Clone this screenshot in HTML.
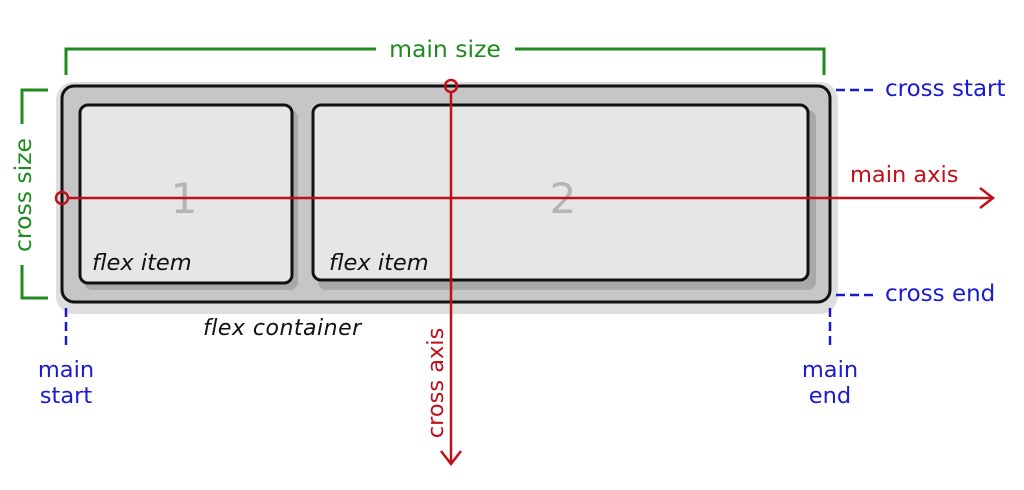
<!DOCTYPE html>
<html><head><meta charset="utf-8"><style>
html,body{margin:0;padding:0;background:#fff;width:1024px;height:490px;overflow:hidden}
svg{display:block}
text{font-family:"DejaVu Sans","Liberation Sans",sans-serif}
</style></head><body>
<svg width="1024" height="490" viewBox="0 0 1024 490" xmlns="http://www.w3.org/2000/svg">
<rect x="56" y="82" width="782" height="232" rx="18" fill="#dedede"/>
<rect x="62" y="86" width="768" height="216" rx="12" fill="#c6c6c6" stroke="#111" stroke-width="3"/>
<rect x="84" y="110" width="214" height="180" rx="8" fill="#a9a9a9"/>
<rect x="318" y="110" width="498" height="180" rx="8" fill="#a9a9a9"/>
<rect x="80" y="105" width="212" height="178" rx="8" fill="#e6e6e6" stroke="#111" stroke-width="3"/>
<rect x="313" y="105" width="495" height="175" rx="8" fill="#e6e6e6" stroke="#111" stroke-width="3"/>
<text x="184" y="213" font-size="42" fill="#b5b5b5" text-anchor="middle">1</text>
<text x="563" y="213" font-size="42" fill="#b5b5b5" text-anchor="middle">2</text>
<text x="92" y="270" font-size="22.5" font-style="italic" fill="#111">flex item</text>
<text x="329" y="270" font-size="22.5" font-style="italic" fill="#111">flex item</text>
<text x="203" y="335" font-size="22" font-style="italic" fill="#111" letter-spacing="0.5">flex container</text>
<line x1="68" y1="198" x2="993" y2="198" stroke="#c0101a" stroke-width="2.5"/>
<polyline points="980,188 993,198 980,208" fill="none" stroke="#c0101a" stroke-width="2.5"/>
<circle cx="62" cy="198" r="6" fill="none" stroke="#c0101a" stroke-width="2.5"/>
<text x="850" y="182" font-size="22.5" fill="#c0101a">main axis</text>
<line x1="451" y1="92" x2="451" y2="464" stroke="#c0101a" stroke-width="2.5"/>
<polyline points="441,451 451,464 461,451" fill="none" stroke="#c0101a" stroke-width="2.5"/>
<circle cx="451" cy="86" r="6" fill="none" stroke="#c0101a" stroke-width="2.5"/>
<text transform="translate(443,383) rotate(-90)" font-size="22.5" fill="#c0101a" text-anchor="middle">cross axis</text>
<polyline points="66,75 66,49 376,49" fill="none" stroke="#1f8a1f" stroke-width="3"/>
<polyline points="515,49 824,49 824,75" fill="none" stroke="#1f8a1f" stroke-width="3"/>
<text x="445" y="57" font-size="23.5" fill="#1f8a1f" text-anchor="middle">main size</text>
<polyline points="48,90 22,90 22,124" fill="none" stroke="#1f8a1f" stroke-width="3"/>
<polyline points="22,265 22,298 48,298" fill="none" stroke="#1f8a1f" stroke-width="3"/>
<text transform="translate(31,195) rotate(-90)" font-size="23.5" fill="#1f8a1f" text-anchor="middle">cross size</text>
<line x1="836" y1="90" x2="878" y2="90" stroke="#1a1ad0" stroke-width="2.5" stroke-dasharray="9,5"/>
<text x="885" y="96" font-size="23" fill="#1a1ad0">cross start</text>
<line x1="836" y1="295" x2="878" y2="295" stroke="#1a1ad0" stroke-width="2.5" stroke-dasharray="9,5"/>
<text x="885" y="301" font-size="23" fill="#1a1ad0">cross end</text>
<line x1="66" y1="308" x2="66" y2="345" stroke="#1a1ad0" stroke-width="2.5" stroke-dasharray="9,5"/>
<text x="66" y="377" font-size="22.5" fill="#1a1ad0" text-anchor="middle">main</text>
<text x="66" y="403" font-size="22.5" fill="#1a1ad0" text-anchor="middle">start</text>
<line x1="830" y1="308" x2="830" y2="345" stroke="#1a1ad0" stroke-width="2.5" stroke-dasharray="9,5"/>
<text x="830" y="377" font-size="22.5" fill="#1a1ad0" text-anchor="middle">main</text>
<text x="830" y="403" font-size="22.5" fill="#1a1ad0" text-anchor="middle">end</text>
</svg>
</body></html>
